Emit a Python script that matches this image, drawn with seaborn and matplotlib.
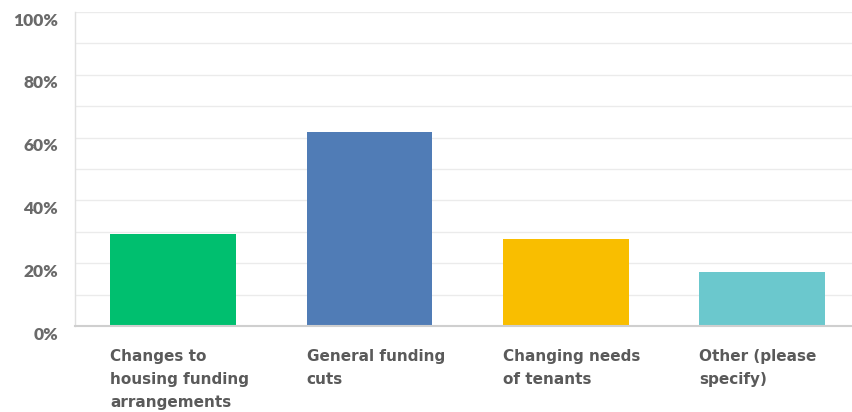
import matplotlib
matplotlib.use("Agg")
import matplotlib.pyplot as plt
from matplotlib.transforms import ScaledTranslation
import seaborn as sns
import pandas as pd

categories = [
    "Changes to\nhousing funding\narrangements",
    "General funding\ncuts",
    "Changing needs\nof tenants",
    "Other (please\nspecify)",
]
responses = [29.2, 61.7, 27.6, 17.3]
colors = ["#00BF6F", "#507CB6", "#F9BE00", "#6BC8CD"]
y_ticks = [0, 20, 40, 60, 80, 100]
y_tick_labels = ["0%", "20%", "40%", "60%", "80%", "100%"]

BAR_W = 0.64

sns.set_theme(style="white")
plt.rcParams["font.family"] = ["Liberation Sans Narrow", "DejaVu Sans"]

df = pd.DataFrame({"answer": categories, "pct": responses})

fig = plt.figure(figsize=(8.52, 4.12), dpi=100)
ax = fig.add_axes([75 / 852, 86 / 412, 1 - 75 / 852, 314 / 412])

sns.barplot(data=df, x="answer", y="pct", hue="answer", palette=colors,
            width=BAR_W, legend=False, ax=ax, saturation=1, linewidth=0)

ax.set_ylim(0, 100)
ax.set_xlim(-0.5, 3.458)

# light horizontal gridlines every 10%
for v in range(10, 101, 10):
    ax.axhline(v, color="#ebebeb", lw=1, zorder=0)

ax.set_yticks(y_ticks)
ax.set_yticklabels(y_tick_labels, fontsize=12.5, fontweight="heavy",
                   color="#6a6a6a", family=["Lato", "DejaVu Sans"])
ax.tick_params(axis="y", length=0, pad=12)
shift = ScaledTranslation(0, -7 / 100, fig.dpi_scale_trans)
for lab in ax.get_yticklabels():
    lab.set_transform(lab.get_transform() + shift)

# category labels, left-aligned under each bar
ax.set_xticks([])
ax.set_xlabel("")
ax.set_ylabel("")
for i, name in enumerate(categories):
    ax.text(i - BAR_W / 2, -0.072, name, transform=ax.get_xaxis_transform(),
            ha="left", va="top", fontsize=11, fontweight="semibold",
            color="#5a5a5a", linespacing=1.68)

for side in ["top", "right"]:
    ax.spines[side].set_visible(False)
ax.spines["left"].set_color("#e0e0e0")
ax.spines["left"].set_linewidth(1)
ax.spines["bottom"].set_color("#cfcfcf")
ax.spines["bottom"].set_linewidth(1.5)

fig.savefig("out.png", dpi=100)
